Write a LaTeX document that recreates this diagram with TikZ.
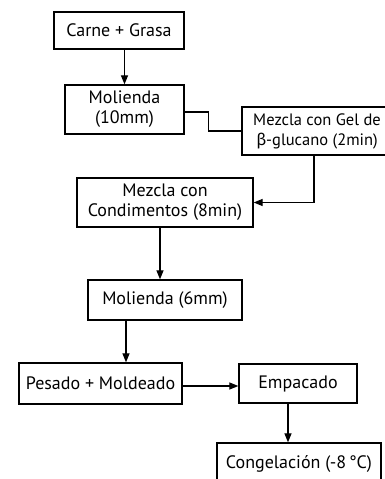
\documentclass[tikz,border=0pt]{standalone}
\usepackage{fontspec}
\setmainfont{PT Sans}
\newfontfamily\grk{Fira Sans}
\usetikzlibrary{arrows.meta}
\begin{document}
\begin{tikzpicture}[x=1pt,y=-1pt,
  box/.style={draw,line width=1.3pt,inner sep=0pt,align=center,font=\fontsize{18}{20}\selectfont},
  arr/.style={line width=1.2pt,-{Triangle[length=9pt,width=7pt]}},
  con/.style={line width=1.2pt}]
\useasboundingbox (0,0) rectangle (385,479);
\clip (0,0) rectangle (385,479);
\node[box,minimum width=130pt,minimum height=37pt] (b1) at (119,30.5) {Carne + Grasa};
\node[box,minimum width=119pt,minimum height=49pt] (b2) at (124.5,109.5) {Molienda\\(10mm)};
\node[box,minimum width=150pt,minimum height=48pt,font=\fontsize{16.5}{20}\selectfont] (b3) at (317,131) {Mezcla con Gel de\\{\grk β}-glucano (2min)};
\node[box,minimum width=176pt,minimum height=49pt] (b4) at (165,202.5) {Mezcla con\\Condimentos (8min)};
\node[box,minimum width=154pt,minimum height=40pt] (b5) at (165,300) {Molienda (6mm)};
\node[box,minimum width=163pt,minimum height=41pt] (b6) at (100.5,383.5) {Pesado + Moldeado};
\node[box,minimum width=118pt,minimum height=39pt] (b7) at (298,383.5) {Empacado};
\node[box,minimum width=164pt,minimum height=42pt] (b8) at (299,464) {Congelación (-8\,°C)};
\draw[arr] (b1.south -| b2.north) -- (b2.north);
\draw[con] ([yshift=-2.5pt]b2.east) -- ++(24,0) |- (b3.west);
\draw[arr] ([xshift=-3pt]b3.south) |- (b4.east);
\draw[arr] ([xshift=-5pt]b4.south) -- ([xshift=-5pt]b5.north);
\draw[arr] ([xshift=25.5pt]b6.north |- b5.south) -- ([xshift=25.5pt]b6.north);
\draw[arr] ([yshift=-2.5pt]b6.east) -- ([yshift=-2.5pt]b6.east -| b7.west);
\draw[arr] ([xshift=-10pt]b7.south) -- ([xshift=-10pt]b7.south |- b8.north);
\end{tikzpicture}
\end{document}
